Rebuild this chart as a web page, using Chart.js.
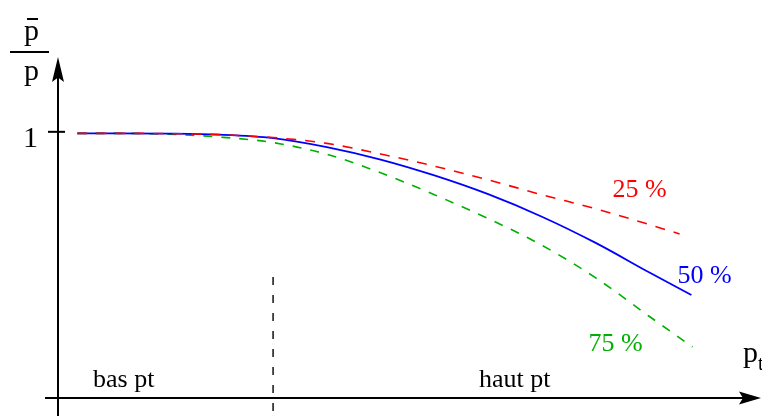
<!DOCTYPE html>
<html>
<head>
<meta charset="utf-8">
<script src="https://cdn.jsdelivr.net/npm/chart.js@4.4.1/dist/chart.umd.min.js"></script>
<style>
  html, body { margin: 0; padding: 0; background: #fff; }
  #wrap { width: 762px; height: 416px; }
</style>
</head>
<body>
<div id="wrap"><canvas id="graf" width="762" height="416"></canvas></div>
<script>
// ========== DONNÉES ==========
// p_t (unités arbitraires), la limite bas/haut pt est à 2
const ptCommun = [0.18, 0.5, 1.0, 1.5, 2.0, 2.5, 3.0, 3.5, 4.0, 4.5, 5.0, 5.5];
const pt25 = [...ptCommun, 5.78];
const pt50 = [...ptCommun, 5.89];
const pt75 = [...ptCommun, 5.9];

// rapport p̄/p
const rapport25 = [1.0, 1.0, 0.999, 0.995, 0.984, 0.962, 0.922, 0.876, 0.824, 0.768, 0.715, 0.655, 0.620];
const rapport50 = [1.0, 1.0, 0.999, 0.995, 0.982, 0.948, 0.901, 0.841, 0.770, 0.685, 0.586, 0.474, 0.389];
const rapport75 = [1.0, 1.0, 0.997, 0.986, 0.965, 0.921, 0.851, 0.768, 0.678, 0.577, 0.454, 0.308, 0.193];

const etiquettesCourbes = ['25 %', '50 %', '75 %'];
const couleurs = ['#ff0000', '#0000ff', '#00b000'];
const limitePt = 2;
const graduationsY = [1];
const zones = ['bas pt', 'haut pt'];

const POLICE = '"Liberation Serif", "Times New Roman", serif';

function serie(xs, ys) {
  return xs.map((x, i) => ({ x: x, y: ys[i] }));
}

// pointe de flèche style LaTeX (légèrement creusée à l'arrière)
function fleche(ctx, x, y, dx, dy, longueur, demiLargeur) {
  const px = -dy, py = dx;
  const bx = x - dx * longueur, by = y - dy * longueur;
  ctx.beginPath();
  ctx.moveTo(x, y);
  ctx.lineTo(bx + px * demiLargeur, by + py * demiLargeur);
  ctx.lineTo(x - dx * longueur * 0.82, y - dy * longueur * 0.82);
  ctx.lineTo(bx - px * demiLargeur, by - py * demiLargeur);
  ctx.closePath();
  ctx.fill();
}

// ========== AXES ET TEXTES ==========
const axesPlugin = {
  id: 'axesSchema',
  afterDraw(chart) {
    const ctx = chart.ctx;
    const xs = chart.scales.x, ys = chart.scales.y;
    const x0 = xs.getPixelForValue(0);
    const y0 = ys.getPixelForValue(0);

    ctx.save();
    ctx.strokeStyle = '#000';
    ctx.fillStyle = '#000';
    ctx.lineWidth = 2;

    // axe vertical
    ctx.beginPath();
    ctx.moveTo(x0, chart.height);
    ctx.lineTo(x0, 70);
    ctx.stroke();
    fleche(ctx, x0, 57, 0, -1, 25, 6);

    // axe horizontal
    ctx.beginPath();
    ctx.moveTo(x0 - 13, y0);
    ctx.lineTo(745, y0);
    ctx.stroke();
    fleche(ctx, 761, y0, 1, 0, 22, 6.5);

    // graduation et valeur 1
    ctx.font = '30px ' + POLICE;
    ctx.textAlign = 'right';
    ctx.textBaseline = 'alphabetic';
    graduationsY.forEach(v => {
      const py = ys.getPixelForValue(v);
      ctx.beginPath();
      ctx.moveTo(x0 - 10, py - 1.5);
      ctx.lineTo(x0 + 7, py - 1.5);
      ctx.stroke();
      ctx.fillText(String(v), x0 - 20, py + 14);
    });

    // séparation bas / haut pt
    const xl = xs.getPixelForValue(limitePt);
    ctx.lineWidth = 1.4;
    ctx.setLineDash([8, 10]);
    ctx.beginPath();
    ctx.moveTo(xl, 277);
    ctx.lineTo(xl, chart.height);
    ctx.stroke();
    ctx.setLineDash([]);

    // titre de l'axe vertical : p̄ / p
    ctx.textAlign = 'left';
    ctx.fillText('p', 24, 40);
    ctx.fillText('p', 24, 80);
    ctx.lineWidth = 2;
    ctx.beginPath();
    ctx.moveTo(27, 19);
    ctx.lineTo(38, 19);
    ctx.moveTo(10, 52);
    ctx.lineTo(49, 52);
    ctx.stroke();

    // titre de l'axe horizontal : p_t
    ctx.fillText('p', 743, 362);
    ctx.font = '20px ' + POLICE;
    ctx.fillText('t', 758, 370);

    // zones
    ctx.font = '26px ' + POLICE;
    ctx.fillText(zones[0], 93, 387);
    ctx.fillText(zones[1], 479, 387);

    // étiquettes des courbes, près du dernier point de chaque série
    const decalages = [[-67, -37], [-14, -12], [-104, 4]];
    chart.data.datasets.forEach((ds, i) => {
      const dernier = ds.data[ds.data.length - 1];
      const px = xs.getPixelForValue(dernier.x);
      const py = ys.getPixelForValue(dernier.y);
      ctx.fillStyle = couleurs[i];
      ctx.fillText(etiquettesCourbes[i], px + decalages[i][0], py + decalages[i][1]);
    });

    ctx.restore();
  }
};

// ========== GRAPHIQUE ==========
const ctx = document.getElementById('graf');
new Chart(ctx, {
  type: 'line',
  data: {
    datasets: [
      {
        label: etiquettesCourbes[0],
        data: serie(pt25, rapport25),
        borderColor: couleurs[0],
        borderWidth: 1.6,
        borderDash: [10, 9]
      },
      {
        label: etiquettesCourbes[1],
        data: serie(pt50, rapport50),
        borderColor: couleurs[1],
        borderWidth: 1.8
      },
      {
        label: etiquettesCourbes[2],
        data: serie(pt75, rapport75),
        borderColor: couleurs[2],
        borderWidth: 1.6,
        borderDash: [9, 9]
      }
    ]
  },
  options: {
    responsive: false,
    animation: false,
    events: [],
    layout: { padding: { left: 58, right: 5, top: 1, bottom: 18 } },
    elements: {
      point: { radius: 0 },
      line: { cubicInterpolationMode: 'monotone', fill: false }
    },
    plugins: {
      legend: { display: false },
      tooltip: { enabled: false },
      title: { display: false }
    },
    scales: {
      x: { type: 'linear', min: 0, max: 6.5, display: false },
      y: { type: 'linear', min: 0, max: 1.5, display: false }
    }
  },
  plugins: [axesPlugin]
});
</script>
</body>
</html>
